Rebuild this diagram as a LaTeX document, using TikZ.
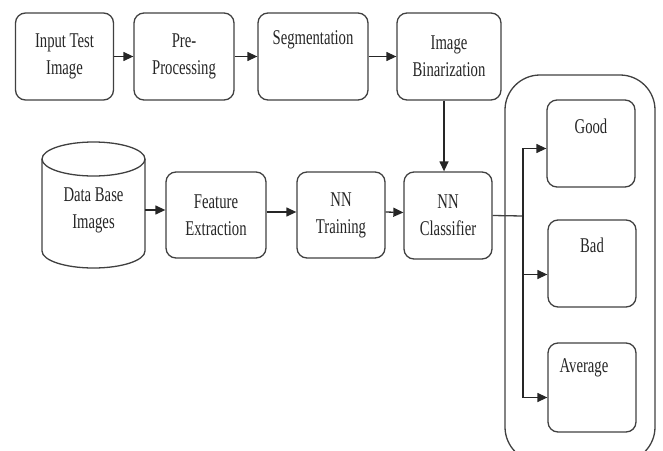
\documentclass[tikz,border=0pt]{standalone}
\usepackage{fontspec}
\setmainfont{Liberation Serif}[FakeStretch=0.7]
\usetikzlibrary{arrows.meta}
\begin{document}
\begin{tikzpicture}[x=1pt,y=-1pt,
  every node/.style={font=\fontsize{21}{27}\selectfont, text=black!85},
  box/.style={draw=black!75, line width=1.3pt, rounded corners=10pt, inner sep=0pt, align=center},
  lbl/.style={inner sep=0pt, align=center},
  arr/.style={draw=black!85, line width=1.3pt, -{Triangle[length=10pt,width=9pt]}},
  ln/.style={draw=black!75, line width=1.3pt}]
\clip (0,0) rectangle (663,450);
% top row
\node[box, minimum width=98pt, minimum height=87pt] (inp) at (64.5,56.5) {Input Test\\Image};
\node[box, minimum width=100pt, minimum height=87pt] (pre) at (184,56.5) {Pre-\\Processing};
\node[box, minimum width=110pt, minimum height=87pt] (seg) at (313,56.5) {};
\node[lbl] (segt) at (313,40) {Segmentation};
\node[box, minimum width=104pt, minimum height=87pt] (bin) at (449,56.5) {Image\\Binarization};
% bottom row
\node[lbl, minimum width=103pt, minimum height=126pt] (db) at (93.5,210) {Data Base\\Images};
\draw[ln] (93.5,159) ellipse [x radius=51.5, y radius=17];
\draw[ln] (42,159) -- (42,251) arc[start angle=180, end angle=360, x radius=51.5, y radius=-17] -- (145,159);
\node[box, minimum width=100pt, minimum height=86pt] (fe) at (216,215) {Feature\\Extraction};
\node[box, minimum width=88pt, minimum height=86pt] (nnt) at (341,215) {NN\\Training};
\node[box, minimum width=88pt, minimum height=87pt] (cls) at (448,215.5) {NN\\Classifier};
% output group
\draw[ln, rounded corners=35pt] (505,75) rectangle (655,462);
\node[box, minimum width=88pt, minimum height=87pt] (good) at (591,143.5) {};
\node[lbl] (goodt) at (591,126) {Good};
\node[box, minimum width=88pt, minimum height=87pt] (bad) at (592,263.5) {};
\node[lbl] (badt) at (592,245) {Bad};
\node[box, minimum width=88pt, minimum height=89pt] (avg) at (592,387.5) {};
\node[lbl] (avgt) at (584,368) {Average};
% connectors
\draw[arr] (inp) -- (pre);
\draw[arr] (pre) -- (seg);
\draw[arr] (seg) -- (bin);
\draw[arr] ([xshift=-5pt]bin.south) -- ([xshift=-4pt]cls.north);
\draw[arr] (db.east) -- (db.east -| fe.west);
\draw[arr] ([yshift=3pt]fe.east) -- ([yshift=3pt]nnt.west);
\draw[arr] ([yshift=3pt]nnt.east) -- ([yshift=3pt]cls.west);
\coordinate (split) at (523,216);
\draw[ln] (cls.east) -- (split);
\draw[arr] (split) |- ([yshift=-5pt]good.west);
\draw[arr] (split) |- ([yshift=-11pt]bad.west);
\draw[arr] (split) |- ([yshift=-10pt]avg.west);
\end{tikzpicture}
\end{document}
